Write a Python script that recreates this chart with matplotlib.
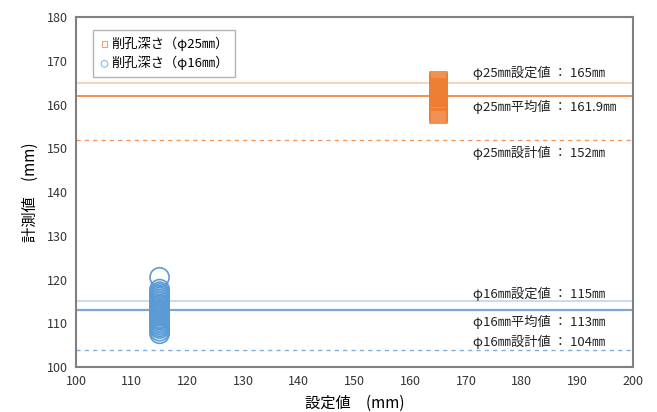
import matplotlib.pyplot as plt
import numpy as np

plt.rcParams['font.family'] = ['Noto Sans CJK JP', 'DejaVu Sans']

# measured drill depths
set25 = 165
vals25 = [157.8, 158.2, 158.6, 159.0, 159.5, 160.0, 160.4, 160.8, 161.2, 161.5,
          161.8, 162.0, 162.2, 162.4, 162.6, 162.8, 163.0, 163.2, 163.4, 163.6,
          163.9, 164.2, 164.6, 165.0, 165.4, 161.0, 162.5, 163.1, 161.7, 160.9]
set16 = 115
vals16 = [120.5, 117.8, 117.2, 116.8, 116.4, 116.0, 115.6, 115.2, 114.8, 114.4,
          114.0, 113.6, 113.2, 112.8, 112.4, 112.0, 111.6, 111.2, 110.8, 110.4,
          110.0, 109.6, 109.2, 108.8, 108.2, 107.6, 113.0, 114.2, 112.2, 111.0]

ref25 = {'set': 165, 'mean': 161.9, 'design': 152}
ref16 = {'set': 115, 'mean': 113, 'design': 104}

orange = '#ED7D31'
blue = '#5B9BD5'

fig = plt.figure(figsize=(6.57, 4.12), dpi=100)
ax = fig.add_axes([0.1157, 0.1092, 0.848, 0.8495])

ax.axhline(ref25['set'], color='#F8CBAD', lw=1.2)
ax.axhline(ref25['mean'], color=orange, lw=1.2)
ax.axhline(ref25['design'], color=orange, lw=1.0, ls=(0, (3, 3)), alpha=0.8)
ax.axhline(ref16['set'], color='#BDD7EE', lw=1.2)
ax.axhline(ref16['mean'], color='#7FA6D3', lw=1.6)
ax.axhline(ref16['design'], color=blue, lw=1.0, ls=(0, (3, 3)), alpha=0.8)

ax.scatter([set25] * len(vals25), vals25, marker='s', s=150, facecolor='none',
           edgecolor=orange, lw=1.2, label='削孔深さ（φ25㎜）', zorder=3)
ax.scatter([set16] * len(vals16), vals16, marker='o', s=190, facecolor='none',
           edgecolor=blue, lw=1.2, label='削孔深さ（φ16㎜）', zorder=3)

tx = 171.3
fs = 9.5
ax.text(tx, 167.2, 'φ25㎜設定値 ： 165㎜', fontsize=fs, va='center', color='#222222')
ax.text(tx, 159.4, 'φ25㎜平均値 ： 161.9㎜', fontsize=fs, va='center', color='#222222')
ax.text(tx, 149.0, 'φ25㎜設計値 ： 152㎜', fontsize=fs, va='center', color='#222222')
ax.text(tx, 116.7, 'φ16㎜設定値 ： 115㎜', fontsize=fs, va='center', color='#222222')
ax.text(tx, 110.2, 'φ16㎜平均値 ： 113㎜', fontsize=fs, va='center', color='#222222')
ax.text(tx, 105.8, 'φ16㎜設計値 ： 104㎜', fontsize=fs, va='center', color='#222222')

ax.set_xlim(100, 200)
ax.set_ylim(100, 180)
ax.set_xticks(np.arange(100, 201, 10))
ax.set_yticks(np.arange(100, 181, 10))
ax.tick_params(length=0, labelsize=9, colors='#333333', pad=6)
for s in ax.spines.values():
    s.set_color('#808080')
    s.set_linewidth(1.5)

ax.set_xlabel('設定値　(mm)', fontsize=11, labelpad=5)
ax.set_ylabel('計測値　(mm)', fontsize=11, labelpad=6)

leg = ax.legend(loc='upper left', bbox_to_anchor=(0.018, 0.983), fontsize=9.5,
                frameon=True, fancybox=False, edgecolor='#A0A0A0',
                handletextpad=0.1, handlelength=0.8, borderpad=0.5,
                labelspacing=0.4, markerscale=0.35)
leg.get_frame().set_linewidth(1.0)
for h in leg.legend_handles:
    h.set_linewidth(0.8)
    h.set_alpha(0.7)

fig.savefig('out.png', dpi=100)
